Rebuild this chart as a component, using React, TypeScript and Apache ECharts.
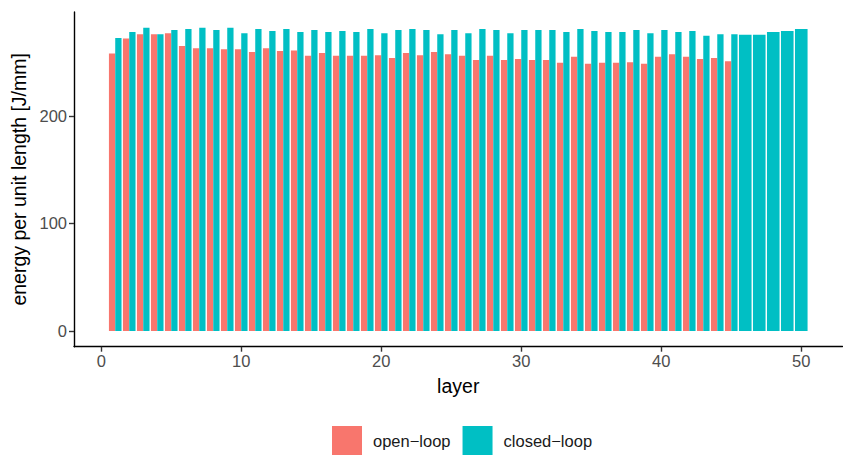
import React, { useEffect, useRef } from "react";
import * as echarts from "echarts";

const OPEN_NAME = "open\u2212loop";
const CLOSED_NAME = "closed\u2212loop";

const openLayers = Array.from({ length: 45 }, (_, i) => i + 1);
const openValues = [
  258, 272, 276, 276, 277, 265, 263, 263, 262, 262,
  259.5, 263, 260.5, 261, 256, 258.5, 256, 256, 256, 256.5,
  254, 258.5, 256.5, 259.5, 257.5, 256, 252, 256, 252, 253,
  252, 252, 249.5, 255, 248.5, 249.5, 249.5, 250, 248.5, 255,
  257.5, 255, 253, 254, 251,
];

const closedLayers = Array.from({ length: 50 }, (_, i) => i + 1);
const closedValues = [
  272.5, 278, 282, 276, 280, 281, 282, 280, 282, 277,
  281, 279, 281, 278, 280, 278, 279, 278, 281, 277,
  280, 281, 280, 276, 280, 277, 281, 280, 277, 280,
  280, 280, 278, 281, 279, 278, 278, 280, 277, 280,
  278, 279, 274.5, 276, 276, 275.5, 275.5, 278, 279, 281,
];

const xTicks = [0, 10, 20, 30, 40, 50];
const yTicks = [0, 100, 200];

const OPEN_COLOR = "#F8766D";
const CLOSED_COLOR = "#00BFC4";
const FONT = "'Liberation Sans', Arial, Helvetica, sans-serif";

const openSet = new Set(openLayers);
const closedSet = new Set(closedLayers);

function makeRender(kind: "open" | "closed", color: string) {
  return (params: any, api: any) => {
    const layer = api.value(0);
    const v = api.value(1);
    const paired = kind === "open" ? closedSet.has(layer) : openSet.has(layer);
    let x0: number, x1: number;
    if (!paired) {
      x0 = layer - 0.45;
      x1 = layer + 0.45;
    } else if (kind === "open") {
      x0 = layer - 0.45;
      x1 = layer;
    } else {
      x0 = layer;
      x1 = layer + 0.45;
    }
    const p0 = api.coord([x0, 0]);
    const p1 = api.coord([x1, v]);
    return {
      type: "rect",
      shape: { x: p0[0], y: p1[1], width: p1[0] - p0[0], height: p0[1] - p1[1] },
      style: { fill: color },
    };
  };
}

export default function App() {
  const ref = useRef<HTMLDivElement>(null);
  useEffect(() => {
    if (!ref.current) return;
    const chart = echarts.init(ref.current, undefined, { renderer: "svg" });
    chart.setOption({
      animation: false,
      backgroundColor: "#ffffff",
      textStyle: { fontFamily: FONT },
      grid: { left: 74, right: 0.5, top: 12, bottom: 109.3, containLabel: false },
      legend: {
        left: 327,
        top: 421,
        padding: 5,
        itemWidth: 30,
        itemHeight: 29,
        itemGap: 12,
        icon: "rect",
        textStyle: { fontSize: 16.5, color: "#1a1a1a", fontFamily: FONT, padding: [0, 0, 0, 6] },
        data: [OPEN_NAME, CLOSED_NAME],
      },
      xAxis: {
        type: "value",
        min: -1.945,
        max: 52.945,
        name: "layer",
        nameLocation: "middle",
        nameGap: 29,
        nameTextStyle: { fontSize: 19.5, color: "#000", fontFamily: FONT },
        splitLine: { show: false },
        axisLine: { show: true, onZero: false, lineStyle: { color: "#000", width: 1.4 } },
        axisTick: { show: true, length: 5, lineStyle: { color: "#333", width: 1.4 }, customValues: xTicks },
        axisLabel: { customValues: xTicks, fontSize: 16.5, color: "#4D4D4D", margin: 6, fontFamily: FONT },
      },
      yAxis: {
        type: "value",
        min: -14.6,
        max: 296.7,
        name: "energy per unit length [J/mm]",
        nameLocation: "middle",
        nameGap: 43,
        nameTextStyle: { fontSize: 19.5, color: "#000", fontFamily: FONT },
        splitLine: { show: false },
        axisLine: { show: true, onZero: false, lineStyle: { color: "#000", width: 1.4 } },
        axisTick: { show: true, length: 5, lineStyle: { color: "#333", width: 1.4 }, customValues: yTicks },
        axisLabel: { customValues: yTicks, fontSize: 16.5, color: "#4D4D4D", margin: 7, fontFamily: FONT },
      },
      series: [
        {
          name: OPEN_NAME,
          type: "custom",
          itemStyle: { color: OPEN_COLOR },
          renderItem: makeRender("open", OPEN_COLOR),
          encode: { x: 0, y: 1 },
          data: openLayers.map((l, i) => [l, openValues[i]]),
        },
        {
          name: CLOSED_NAME,
          type: "custom",
          itemStyle: { color: CLOSED_COLOR },
          renderItem: makeRender("closed", CLOSED_COLOR),
          encode: { x: 0, y: 1 },
          data: closedLayers.map((l, i) => [l, closedValues[i]]),
        },
      ],
    });
    return () => chart.dispose();
  }, []);
  return (
    <div
      ref={ref}
      style={{ position: "fixed", left: 0, top: 0, width: 843, height: 456, background: "#fff" }}
    />
  );
}
